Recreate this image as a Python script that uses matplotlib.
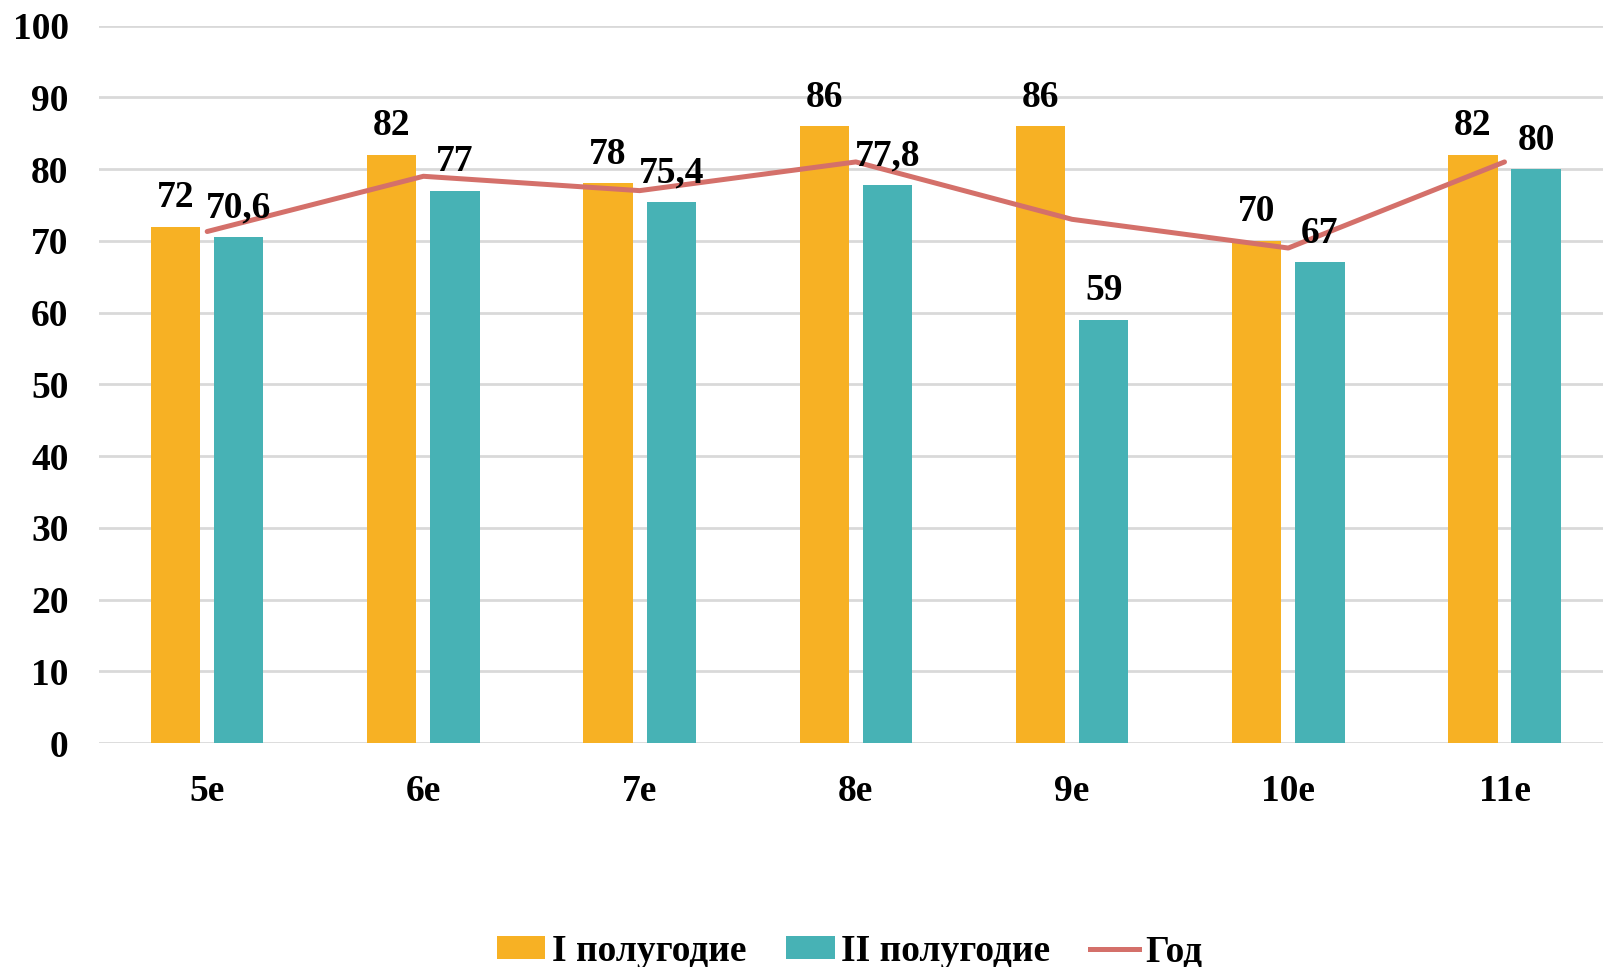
import matplotlib
matplotlib.use("Agg")
import matplotlib.pyplot as plt
import numpy as np
from matplotlib.patches import Patch
from matplotlib.lines import Line2D

categories = ["5е", "6е", "7е", "8е", "9е", "10е", "11е"]
half1 = [72, 82, 78, 86, 86, 70, 82]
half2 = [70.6, 77, 75.4, 77.8, 59, 67, 80]
year = [71.3, 79, 77, 81, 73, 69, 81]
series_names = ["I полугодие", "II полугодие", "Год"]
yticks = [0, 10, 20, 30, 40, 50, 60, 70, 80, 90, 100]

c1 = "#F7B124"
c2 = "#47B2B5"
c3 = "#D4706A"

plt.rcParams['font.family'] = ['Liberation Serif', 'DejaVu Serif']
plt.rcParams['font.weight'] = 'bold'

fig = plt.figure(figsize=(16.03, 9.67), dpi=100)
ax = fig.add_axes([0.0618, 0.2316, 0.9442, 0.7419])

x = np.arange(len(categories))
w = 0.228
off = 0.146
ax.bar(x - off, half1, w, color=c1, zorder=2)
ax.bar(x + off, half2, w, color=c2, zorder=2)
ax.plot(x, year, color=c3, lw=3.6, zorder=3, solid_capstyle='round')

def fmt(v):
    return ("%g" % v).replace(".", ",")

for xi, v in zip(x - off, half1):
    ax.annotate(fmt(v), (xi, v), xytext=(0, 14), textcoords='offset points',
                ha='center', va='baseline', fontsize=27, fontweight='bold', zorder=4)
for xi, v in zip(x + off, half2):
    ax.annotate(fmt(v), (xi, v), xytext=(0, 14), textcoords='offset points',
                ha='center', va='baseline', fontsize=27, fontweight='bold', zorder=4)

ax.set_xlim(-0.5, len(categories) - 0.5)
ax.set_ylim(0, 100)
ax.set_yticks(yticks)
ax.set_yticklabels([str(t) for t in yticks], fontsize=27, fontweight='bold')
ax.set_xticks(x)
ax.set_xticklabels(categories, fontsize=27, fontweight='bold')
ax.tick_params(axis='both', length=0)
ax.tick_params(axis='y', pad=22)
ax.tick_params(axis='x', pad=22)
ax.grid(axis='y', color='#D9D9D9', lw=2, zorder=0)
for s in ax.spines.values():
    s.set_visible(False)

handles = [Patch(facecolor=c1), Patch(facecolor=c2), Line2D([0], [0], color=c3, lw=3.6)]
fig.legend(handles, series_names, loc='lower center', bbox_to_anchor=(0.53, -0.037),
           ncol=3, frameon=False, prop={'size': 27, 'weight': 'bold'},
           handlelength=1.3, handleheight=0.55, handletextpad=0.18, columnspacing=1.05)

fig.savefig("out.png", dpi=100)
